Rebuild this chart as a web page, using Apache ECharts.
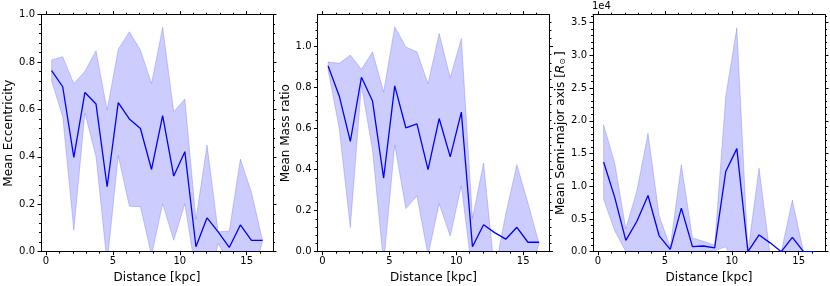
<!DOCTYPE html>
<html><head><meta charset="utf-8">
<script src="https://cdn.jsdelivr.net/npm/echarts@6/dist/echarts.min.js"></script>
<style>html,body{margin:0;padding:0;background:#fff}#c{width:830px;height:286px}</style>
</head><body><div id="c"></div>
<script>
// ---- data ----
const distance = [0.42,1.25,2.08,2.91,3.74,4.57,5.40,6.23,7.06,7.89,8.72,9.55,10.38,11.21,12.04,12.87,13.70,14.53,15.36,16.19];

const eccMean  = [0.764,0.696,0.398,0.672,0.623,0.274,0.629,0.560,0.520,0.347,0.574,0.319,0.422,0.021,0.143,0.084,0.018,0.113,0.048,0.048];
const eccUpper = [0.809,0.823,0.709,0.761,0.848,0.598,0.854,0.928,0.851,0.710,0.947,0.591,0.644,0.137,0.450,0.084,0.087,0.391,0.250,0.048];
const eccLower = [0.720,0.570,0.089,0.585,0.400,-0.050,0.405,0.192,0.190,-0.016,0.202,0.048,0.202,-0.095,-0.164,0.035,-0.051,-0.164,-0.153,0.048];

const massMean  = [0.905,0.759,0.538,0.850,0.734,0.359,0.808,0.604,0.623,0.400,0.649,0.462,0.680,0.024,0.131,0.093,0.061,0.119,0.046,0.046];
const massUpper = [0.925,0.918,0.958,0.889,0.974,0.778,1.096,0.998,0.974,0.819,1.064,0.848,1.039,0.163,0.432,-0.100,0.185,0.424,0.237,0.040];
const massLower = [0.885,0.600,0.118,0.811,0.494,-0.060,0.520,0.210,0.272,-0.019,0.234,0.076,0.321,-0.115,-0.170,-0.300,-0.063,-0.186,-0.145,0.040];

// semi-major axis, in units of 1e4 R_sun
const smaMean  = [1.37,0.83,0.172,0.465,0.858,0.243,0.036,0.665,0.077,0.087,0.058,1.225,1.574,0.0,0.256,0.135,0.0,0.22,0.0,0.0];
const smaUpper = [1.94,1.354,0.35,0.935,1.81,0.55,0.07,1.33,0.21,0.16,0.10,2.376,3.42,0.0,1.277,-0.05,0.0,0.79,0.0,0.0];
const smaLower = [0.80,0.32,0.0,0.0,-0.094,-0.07,0.0,0.0,-0.06,0.014,0.014,0.074,-0.27,0.0,-0.765,-0.3,0.0,-0.35,0.0,0.0];

const xTicks = [0,5,10,15];
const yTicks1 = [0.0,0.2,0.4,0.6,0.8,1.0];
const yTicks2 = [0.0,0.2,0.4,0.6,0.8,1.0];
const yTicks3 = [0.0,0.5,1.0,1.5,2.0,2.5,3.0,3.5];

const xLabel = 'Distance [kpc]';
const yLabels = ['Mean Eccentricity','Mean Mass ratio','Mean Semi-major axis [{i|R}{s|⊙}]'];
const offsetText = '1e4';

// ---- layout / style ----
const FONT = 'DejaVu Sans';
const X_MIN = -0.374, X_MAX = 16.97;
const yMax = [1.0, 1.155, 3.62];
const grids = [
  {left:41, top:14.7, width:232, height:237, outerBoundsMode:'none', containLabel:false},
  {left:317.5, top:14.7, width:232, height:237, outerBoundsMode:'none', containLabel:false},
  {left:593, top:14.7, width:232, height:237, outerBoundsMode:'none', containLabel:false}
];
function range(a,b,step){const r=[];for(let v=a;v<=b+1e-9;v+=step)r.push(+v.toFixed(6));return r;}
const xMinor = range(0,16,1);
const yMinorSteps = [0.04,0.04,0.1];
const yTicks = [yTicks1,yTicks2,yTicks3];

const lineBlack = {color:'#000', width:1};
const xAxes=[], yAxes=[], series=[];
const dataSets = [[eccMean,eccUpper,eccLower],[massMean,massUpper,massLower],[smaMean,smaUpper,smaLower]];

for(let g=0; g<3; g++){
  const xb = {gridIndex:g, type:'value', min:X_MIN, max:X_MAX, splitLine:{show:false}};
  xAxes.push(
    Object.assign({}, xb, {position:'bottom', axisLine:{show:true,onZero:false,lineStyle:lineBlack},
      axisTick:{show:true, customValues:xTicks, length:3.5, inside:false, lineStyle:lineBlack},
      axisLabel:{show:true, customValues:xTicks, fontSize:10, color:'#000', fontFamily:FONT, margin:5},
      name:xLabel, nameLocation:'middle', nameGap:17, nameTextStyle:{fontSize:12,color:'#000',fontFamily:FONT,verticalAlign:'top'}}),
    Object.assign({}, xb, {position:'bottom', axisLine:{show:false,onZero:false},
      axisTick:{show:true, customValues:xMinor, length:2, lineStyle:lineBlack}, axisLabel:{show:false}}),
    Object.assign({}, xb, {position:'top', axisLine:{show:true,onZero:false,lineStyle:lineBlack},
      axisTick:{show:true, customValues:xTicks, length:3.5, lineStyle:lineBlack}, axisLabel:{show:false}}),
    Object.assign({}, xb, {position:'top', axisLine:{show:false,onZero:false},
      axisTick:{show:true, customValues:xMinor, length:2, lineStyle:lineBlack}, axisLabel:{show:false}})
  );
  const yMinor = range(0, yMax[g], yMinorSteps[g]);
  const yb = {gridIndex:g, type:'value', min:0, max:yMax[g], splitLine:{show:false}};
  yAxes.push(
    Object.assign({}, yb, {position:'left', axisLine:{show:true,onZero:false,lineStyle:lineBlack},
      axisTick:{show:true, customValues:yTicks[g], length:3.5, lineStyle:lineBlack},
      axisLabel:{show:true, customValues:yTicks[g], fontSize:10, color:'#000', fontFamily:FONT, margin:6,
        formatter:v=>(+v).toFixed(1)},
      name:yLabels[g], nameLocation:'middle', nameGap:26, nameRotate:90,
      nameTextStyle:{fontSize:12,color:'#000',fontFamily:FONT,
        rich:{i:{fontSize:12,fontStyle:'italic',fontFamily:FONT,color:'#000'},
              s:{fontSize:8,fontFamily:FONT,color:'#000',verticalAlign:'bottom',padding:[4,2,0,0]}}}}),
    Object.assign({}, yb, {position:'left', axisLine:{show:false,onZero:false},
      axisTick:{show:true, customValues:yMinor, length:2, lineStyle:lineBlack}, axisLabel:{show:false}}),
    Object.assign({}, yb, {position:'right', axisLine:{show:true,onZero:false,lineStyle:lineBlack},
      axisTick:{show:true, customValues:yTicks[g], length:3.5, lineStyle:lineBlack}, axisLabel:{show:false}}),
    Object.assign({}, yb, {position:'right', axisLine:{show:false,onZero:false},
      axisTick:{show:true, customValues:yMinor, length:2, lineStyle:lineBlack}, axisLabel:{show:false}})
  );
  const [mean, up, lo] = dataSets[g];
  series.push({
    type:'custom', xAxisIndex:4*g, yAxisIndex:4*g, clip:true, silent:true, z:1,
    data:[[distance[0], mean[0]]],
    renderItem:function(params, api){
      const pts=[];
      for(let i=0;i<distance.length;i++) pts.push(api.coord([distance[i], up[i]]));
      for(let i=distance.length-1;i>=0;i--) pts.push(api.coord([distance[i], lo[i]]));
      return {type:'polygon', shape:{points:pts},
        style:{fill:'rgba(0,0,255,0.2)', stroke:'rgba(0,0,255,0.18)', lineWidth:1}};
    }
  });
  series.push({
    type:'line', xAxisIndex:4*g, yAxisIndex:4*g, z:3, showSymbol:false, silent:true,
    data:distance.map((x,i)=>[x, mean[i]]),
    lineStyle:{color:'#0000ff', width:1.3}, clip:true
  });
}

const chart = echarts.init(document.getElementById('c'), null, {renderer:'canvas'});
chart.setOption({
  animation:false,
  backgroundColor:'#fff',
  textStyle:{fontFamily:FONT},
  title:{text:offsetText, left:592, top:1, textStyle:{fontSize:10, fontWeight:'normal', color:'#000', fontFamily:FONT}, padding:0},
  grid:grids,
  xAxis:xAxes,
  yAxis:yAxes,
  series:series
});
</script></body></html>
